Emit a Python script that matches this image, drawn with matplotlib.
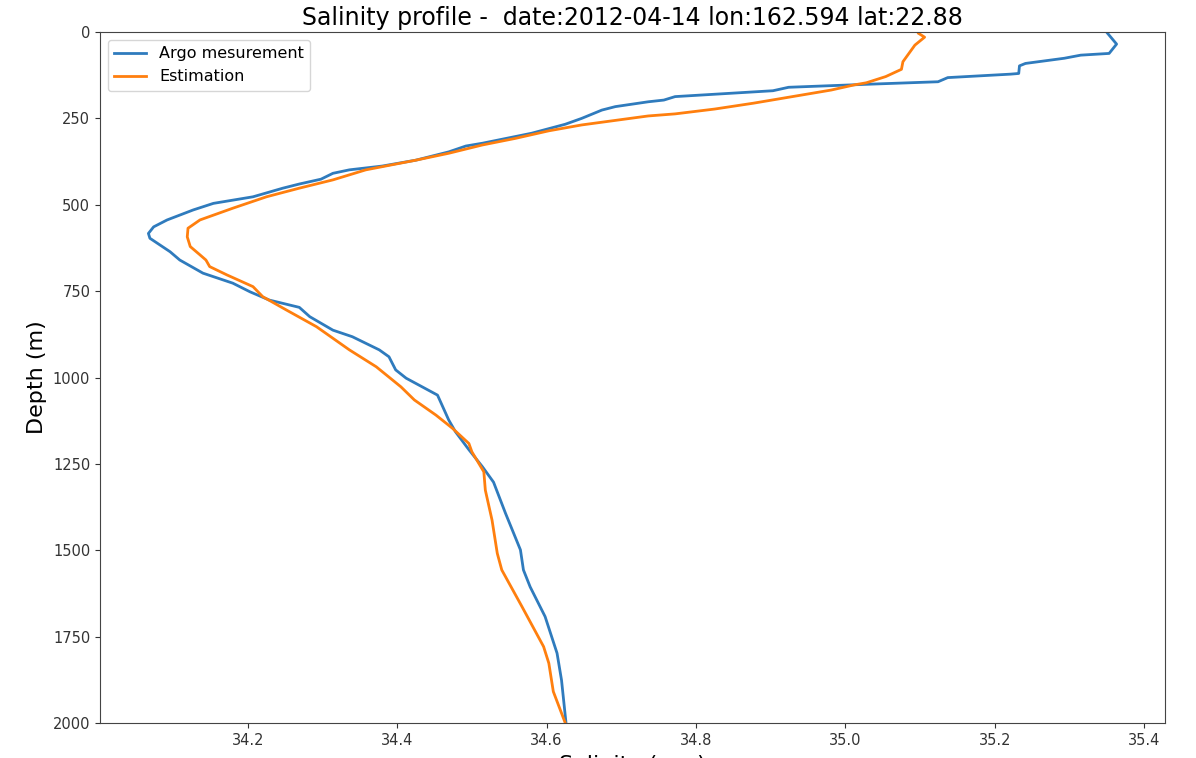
import matplotlib
matplotlib.use("Agg")
import matplotlib.pyplot as plt

# Argo measurement profile (salinity psu, depth m)
argo_sal = [35.351, 35.363, 35.353, 35.315, 35.293, 35.241, 35.233, 35.232, 35.221, 35.137,
            35.124, 35.033, 34.924, 34.903, 34.772, 34.757, 34.736, 34.692, 34.674, 34.647,
            34.625, 34.580, 34.514, 34.492, 34.469, 34.425, 34.380, 34.336, 34.314, 34.298,
            34.269, 34.247, 34.207, 34.154, 34.127, 34.092, 34.074, 34.067, 34.069, 34.096,
            34.109, 34.140, 34.180, 34.203, 34.229, 34.269, 34.283, 34.314, 34.340, 34.358,
            34.376, 34.389, 34.398, 34.412, 34.454, 34.469, 34.478, 34.496, 34.514, 34.529,
            34.545, 34.565, 34.569, 34.578, 34.598, 34.614, 34.620, 34.626]
argo_depth = [4, 35, 62, 67, 76, 91, 98, 120, 122, 132,
              144, 151, 160, 170, 187, 197, 202, 216, 226, 250,
              267, 293, 322, 330, 347, 371, 388, 399, 409, 426,
              440, 452, 477, 496, 515, 544, 564, 583, 597, 636,
              660, 698, 727, 752, 776, 797, 824, 863, 882, 901,
              920, 940, 978, 1002, 1051, 1123, 1157, 1209, 1258, 1303,
              1393, 1499, 1557, 1606, 1692, 1798, 1876, 2000]

# Estimated profile
est_sal = [35.098, 35.106, 35.093, 35.085, 35.077, 35.075, 35.054, 35.028, 35.012, 34.981,
           34.929, 34.877, 34.825, 34.772, 34.736, 34.647, 34.603, 34.558, 34.514, 34.469,
           34.425, 34.358, 34.314, 34.269, 34.225, 34.180, 34.136, 34.120, 34.119, 34.123,
           34.136, 34.144, 34.149, 34.172, 34.207, 34.220, 34.252, 34.292, 34.336, 34.372,
           34.405, 34.423, 34.452, 34.474, 34.496, 34.500, 34.516, 34.518, 34.527, 34.534,
           34.540, 34.567, 34.596, 34.603, 34.609, 34.625]
est_depth = [4, 15, 38, 62, 86, 108, 129, 147, 153, 168,
             187, 206, 223, 237, 243, 269, 286, 308, 327, 351,
             371, 399, 428, 452, 477, 510, 544, 568, 593, 621,
             645, 660, 679, 703, 737, 766, 805, 853, 920, 969,
             1027, 1065, 1109, 1147, 1191, 1215, 1273, 1326, 1413, 1509,
             1557, 1663, 1779, 1827, 1909, 2000]

title = "Salinity profile -  date:2012-04-14 lon:162.594 lat:22.88"

fig = plt.figure(figsize=(11.96, 7.58), dpi=100)
ax = fig.add_axes([100 / 1196, 35 / 758, 1065 / 1196, 691 / 758])

ax.plot(argo_sal, argo_depth, color="#2f7bbd", linewidth=2.0, label="Argo mesurement")
ax.plot(est_sal, est_depth, color="#ff7f0e", linewidth=2.0, label="Estimation")

ax.set_ylim(2000, 0)
ax.set_yticks([0, 250, 500, 750, 1000, 1250, 1500, 1750, 2000])
ax.set_xticks([34.2, 34.4, 34.6, 34.8, 35.0, 35.2, 35.4])
ax.tick_params(labelsize=10.5, colors="#333333")
for sp in ax.spines.values():
    sp.set_color("#444444")

ax.set_title(title, fontsize=17, pad=5)
ax.set_ylabel("Depth (m)", fontsize=16)
ax.set_xlabel("Salinity (psu)", fontsize=16, labelpad=5.5)
ax.legend(loc="upper left", fontsize=11.5)

fig.savefig("out.png", dpi=100)
